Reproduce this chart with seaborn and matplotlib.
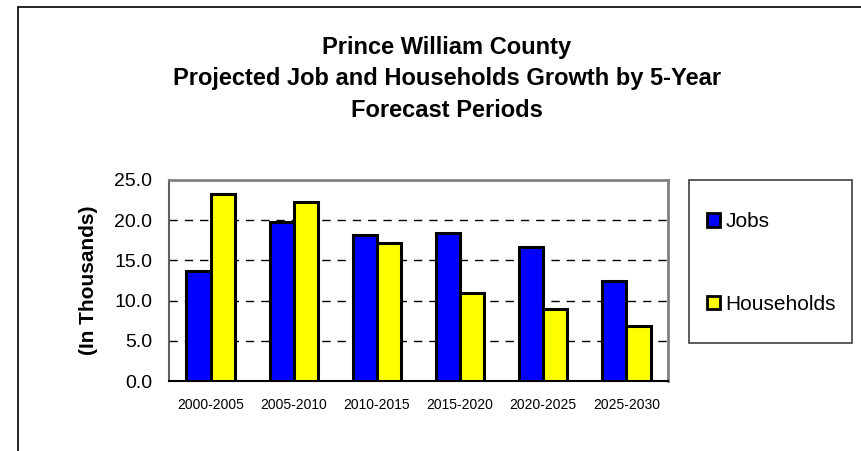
import numpy as np
import pandas as pd
import matplotlib
matplotlib.use("Agg")
import matplotlib.pyplot as plt
from matplotlib.lines import Line2D
from matplotlib.patches import Rectangle, Patch
import seaborn as sns

# data (thousands)
periods = ["2000-2005", "2005-2010", "2010-2015", "2015-2020", "2020-2025", "2025-2030"]
jobs = [13.7, 19.8, 18.1, 18.4, 16.7, 12.5]
households = [23.3, 22.3, 17.2, 10.9, 9.0, 6.9]
series_names = ["Jobs", "Households"]
colors = {"Jobs": "#0000FF", "Households": "#FFFF00"}

df = pd.DataFrame({
    "Period": periods * 2,
    "Series": [series_names[0]] * len(periods) + [series_names[1]] * len(periods),
    "Value": jobs + households,
})

sns.set_style("white")
plt.rcParams["font.family"] = ["Liberation Sans", "DejaVu Sans"]
plt.rcParams.update({"text.color": "black", "axes.labelcolor": "black",
                     "xtick.color": "black", "ytick.color": "black"})

fig = plt.figure(figsize=(8.62, 4.51), dpi=100)
ax = fig.add_axes([169 / 862, 70 / 451, 499 / 862, 201 / 451])

sns.barplot(data=df, x="Period", y="Value", hue="Series", palette=colors,
            saturation=1, width=0.58, gap=0, edgecolor="black", linewidth=2.2,
            legend=False, ax=ax, zorder=3)

ax.set_ylim(0, 25)
ax.set_xlim(-0.5, len(periods) - 0.5)
ax.set_yticks(np.arange(0, 25.1, 5))
ax.set_yticklabels([f"{v:.1f}" for v in np.arange(0, 25.1, 5)], fontsize=14)
ax.tick_params(axis="y", direction="out", length=8.5, width=1, color="black", pad=3.5)
ax.set_xticks(range(len(periods)))
ax.set_xticklabels(periods, fontsize=10)
ax.tick_params(axis="x", which="major", length=0, pad=12)
ax.set_xticks(np.arange(-0.5, len(periods), 1), minor=True)
ax.tick_params(axis="x", which="minor", direction="out", length=4, width=1, color="black")
ax.set_xlabel("")
ax.set_ylabel("(In Thousands)", fontsize=15, fontweight="bold", labelpad=12)

for y in [5, 10, 15, 20]:
    ax.axhline(y, color="black", linewidth=1, linestyle=(0, (6, 5)), zorder=1)

for side in ["top", "right"]:
    ax.spines[side].set_color("#808080")
    ax.spines[side].set_linewidth(2)
ax.spines["left"].set_color("#606060")
ax.spines["left"].set_linewidth(1.5)
ax.spines["bottom"].set_color("black")
ax.spines["bottom"].set_linewidth(1.5)

fig.text(447 / 862, 1 - 79 / 451,
         "Prince William County\nProjected Job and Households Growth by 5-Year\nForecast Periods",
         ha="center", va="center", fontsize=17, fontweight="bold", linespacing=1.47)

# legend box and entries
fig.patches.append(Rectangle((689 / 862, 1 - 343 / 451), 163 / 862, 163 / 451,
                             transform=fig.transFigure, fill=False,
                             edgecolor="#404040", linewidth=1.2))
handles = [Patch(facecolor=colors[s], edgecolor="black", linewidth=2) for s in series_names]
fig.legend(handles, series_names, loc="center left",
           bbox_to_anchor=(697 / 862, 1 - 263 / 451), frameon=False,
           fontsize=15, handlelength=0.6, handleheight=0.6,
           handletextpad=0.25, labelspacing=3.05, borderpad=0)

# outer frame lines
fig.add_artist(Line2D([18 / 862, 1], [1 - 7 / 451, 1 - 7 / 451],
                      transform=fig.transFigure, color="black", linewidth=1.2))
fig.add_artist(Line2D([18 / 862, 18 / 862], [0, 1 - 7 / 451],
                      transform=fig.transFigure, color="black", linewidth=1.2))

fig.savefig("out.png", dpi=100)
